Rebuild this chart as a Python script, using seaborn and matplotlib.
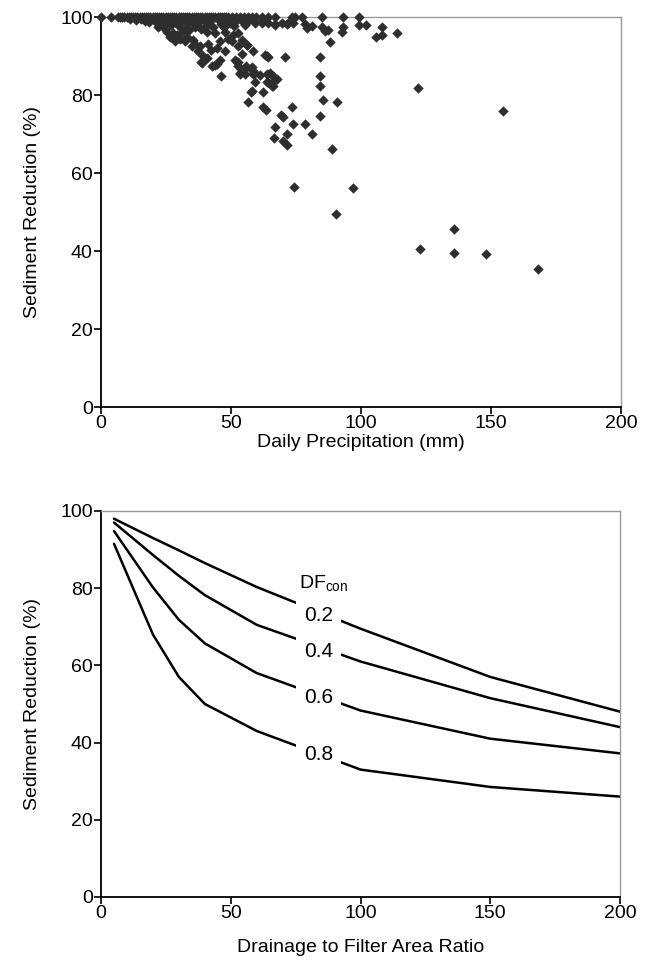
"""Sediment reduction: scatter vs daily precipitation and curves vs drainage/filter area ratio."""
import matplotlib

matplotlib.use("Agg")
import matplotlib.pyplot as plt
import pandas as pd
import seaborn as sns

# --- top panel: event data ---
precip_mm = [
    # events at 100 % reduction
    0, 3.8, 6.5, 7.3, 8.1, 9, 9.8, 10.6, 11.5, 12.3, 13.1, 14, 14.8, 15.6, 16.5, 17.3,
    18.1, 19, 19.8, 20.6, 21.5, 22.3, 23.1, 24, 24.8, 25.6, 26.5, 27.3, 28.1, 29, 29.8,
    30.6, 31.5, 32.3, 33.1, 34, 34.8, 35.6, 36.5, 37.3, 38.1, 39, 39.8, 40.6, 41.5, 42.3,
    43.1, 44, 44.8, 45.6, 46.5, 47.3, 48.1, 49, 50.5, 52, 53.5, 55, 56.5, 58, 59.5, 61.8,
    64.4, 67, 73.3, 74.6, 77.2, 85.1, 93, 99.3,
    # just below 100 %
    11, 13.5, 15.5, 17, 18.5, 20, 21.5, 23, 24.5, 26, 27, 28.5, 30, 31.2, 32.5, 33.5,
    35, 36, 37.2, 38.5, 39.5, 40.2, 41.9, 43, 45.1, 46.2, 47.3, 48.4, 49.6, 51, 52.2,
    54.1, 55.3, 57, 59.2, 61.8, 64.4, 66.9, 69.5, 71.4, 74, 78.5, 79.1, 81, 84.9, 86.2,
    87.4, 93, 92.6, 99.3, 101.9, 108, 108, 105.8, 113.7, 88.1, 84.2, 66.9, 61.8, 72,
    # dense lower cluster
    22, 24.5, 25.5, 26.4, 27.5, 28.3, 29.2, 30.2, 31, 32.2, 33.2, 34, 34.8, 35.3, 36.3,
    37.3, 38, 38.6, 39.2, 40.6, 40.6, 41.2, 42.2, 43.8, 43.8, 44.5, 45.8, 45.8, 47.7,
    47.7, 49, 50.3, 50.9, 52.2, 52.8, 52.8, 52.8, 54.1, 55.4, 56, 58.6, 63.7, 70.8, 39,
    42.6, 44.5, 46, 52.8, 53.5, 55.4, 55.8, 58, 59.2, 57.6, 56.7, 62.4, 62.4, 63.5,
    61.2, 63.7, 64,
    # scattered events
    63.1, 64.1, 54.1, 51.5, 58.6, 53.5, 65, 66.9, 67.6, 64.4, 65.6, 84.2, 84.2, 85.5,
    90.6, 69.2, 69.8, 73.3, 66.9, 74, 78.5, 84.2, 122, 154.5, 81, 89, 71.7, 66.5, 70.1,
    71.7, 74.1, 97, 90.5, 135.9, 122.6, 135.9, 148, 168.2, 56, 58, 59.2, 66, 66, 58,
]
reduction_pct = [
    100, 100, 100, 100, 100, 100, 100, 100, 100, 100, 100, 100, 100, 100, 100, 100,
    100, 100, 100, 100, 100, 100, 100, 100, 100, 100, 100, 100, 100, 100, 100,
    100, 100, 100, 100, 100, 100, 100, 100, 100, 100, 100, 100, 100, 100, 100,
    100, 100, 100, 100, 100, 100, 100, 100, 100, 100, 100, 100, 100, 100, 100, 100,
    100, 100, 100, 100, 100, 100, 100, 100,
    99.6, 99.3, 99.5, 99.1, 98.8, 99.4, 98.5, 99.1, 98.3, 99.2, 97.9, 98.7, 97.6, 98.9,
    97.2, 98.3, 99.1, 97.5, 98.4, 97, 99.2, 97.8, 98.9, 97.4, 99.6, 98.2, 97.5, 99.1,
    98.5, 97.6, 99.2, 98.9, 97.9, 99.3, 98.5, 98.9, 98.5, 98.2, 98.5, 98.2, 98.5, 98.2,
    97.2, 97.6, 97.5, 96.4, 96.8, 97.4, 96.3, 97.9, 97.9, 97.4, 95.5, 94.9, 95.8, 93.5,
    89.7, 97.9, 98.4, 98.4,
    97.5, 96.9, 96.2, 95, 95.8, 93.8, 95.3, 94.4, 96.2, 93.8, 95, 96.6, 92.5, 94.1, 93,
    91.2, 92.6, 88.6, 90.1, 96.3, 89.5, 93, 91.5, 95.9, 87.8, 92.1, 93.8, 89.1, 96.3,
    91.2, 94.5, 93.8, 95.5, 88.6, 95.9, 92.5, 87.4, 94.2, 86.9, 92.9, 91.2, 89.9, 89.7,
    88.3, 87.4, 87.9, 84.9, 88.5, 85.4, 85.4, 87.4, 87.1, 83.4, 80.8, 78.3, 80.8, 77,
    76.2, 85.1, 85.4, 83.4,
    90.3, 89.8, 90.5, 89, 85.4, 85.6, 85.6, 83.8, 84, 83.4, 82.3, 84.9, 82.3, 78.7,
    78.2, 74.9, 74.3, 77, 71.7, 72.6, 72.7, 74.6, 81.9, 75.9, 70, 66.2, 70.1, 69.1, 68.2,
    67.3, 56.4, 56.1, 49.5, 45.7, 40.5, 39.5, 39.3, 35.3, 92.8, 86.4, 85.7, 84.9, 82.4, 81,
]

# --- bottom panel: model curves ---
area_ratio = [5, 20, 30, 40, 60, 100, 150, 200]
df_con_levels = ["0.2", "0.4", "0.6", "0.8"]
red_02 = [98, 93, 89.8, 86.5, 80.3, 69.5, 57, 48]
red_04 = [97, 88.6, 83.2, 78.2, 70.5, 61, 51.5, 44]
red_06 = [94.8, 80.2, 71.8, 65.7, 58, 48.3, 41, 37.2]
red_08 = [91.5, 68, 57, 50, 43, 33, 28.5, 26]
label_y = [72.8, 63.5, 51.8, 36.8]

sns.set_theme(style="white")
plt.rcParams["font.family"] = ["Liberation Sans", "DejaVu Sans"]
plt.rcParams["mathtext.fontset"] = "custom"
plt.rcParams["mathtext.rm"] = "Liberation Sans"
plt.rcParams["mathtext.it"] = "Liberation Sans"
plt.rcParams["text.color"] = "black"
plt.rcParams["axes.labelcolor"] = "black"

FS = 14
fig = plt.figure(figsize=(6.48, 9.65), dpi=100)
ax1 = fig.add_axes([0.1559, 0.5782, 0.8025, 0.4041])
ax2 = fig.add_axes([0.1559, 0.0705, 0.8010, 0.4000])


def style_axes(ax, xlabel, xpad):
    ax.set_xlim(0, 200)
    ax.set_ylim(0, 100)
    ax.set_xticks([0, 50, 100, 150, 200])
    ax.set_yticks([0, 20, 40, 60, 80, 100])
    ax.set_xlabel(xlabel, fontsize=FS, labelpad=xpad)
    ax.set_ylabel("Sediment Reduction (%)", fontsize=FS, labelpad=14)
    ax.tick_params(axis="both", which="major", direction="out", length=5, width=1.2,
                   labelsize=FS, colors="black", pad=1, bottom=True, left=True)
    for side in ("left", "bottom"):
        ax.spines[side].set_color("black")
        ax.spines[side].set_linewidth(1.3)
    for side in ("top", "right"):
        ax.spines[side].set_color("#9a9a9a")
        ax.spines[side].set_linewidth(1.0)


events = pd.DataFrame({"precip": precip_mm, "reduction": reduction_pct})
sns.scatterplot(data=events, x="precip", y="reduction", ax=ax1, marker="D", s=28,
                color="#2e2e2e", edgecolor="#2e2e2e", linewidth=0, clip_on=False, zorder=3)
style_axes(ax1, "Daily Precipitation (mm)", 1)

curves = pd.DataFrame({
    "ratio": area_ratio * 4,
    "reduction": red_02 + red_04 + red_06 + red_08,
    "DFcon": [lvl for lvl in df_con_levels for _ in area_ratio],
})
sns.lineplot(data=curves, x="ratio", y="reduction", hue="DFcon", ax=ax2,
             palette=["black"] * 4, linewidth=1.8, legend=False, zorder=2)
style_axes(ax2, "Drainage to Filter Area Ratio", 12)

for lvl, yv in zip(df_con_levels, label_y):
    ax2.text(83.8, yv, lvl, fontsize=FS + 1, ha="center", va="center", zorder=4,
             bbox=dict(boxstyle="square,pad=0.4", facecolor="white", edgecolor="none"))
ax2.text(76.2, 81.3, r"DF$_{\mathrm{con}}$", fontsize=FS, ha="left", va="center", zorder=4)

fig.savefig("out.png", dpi=100)
